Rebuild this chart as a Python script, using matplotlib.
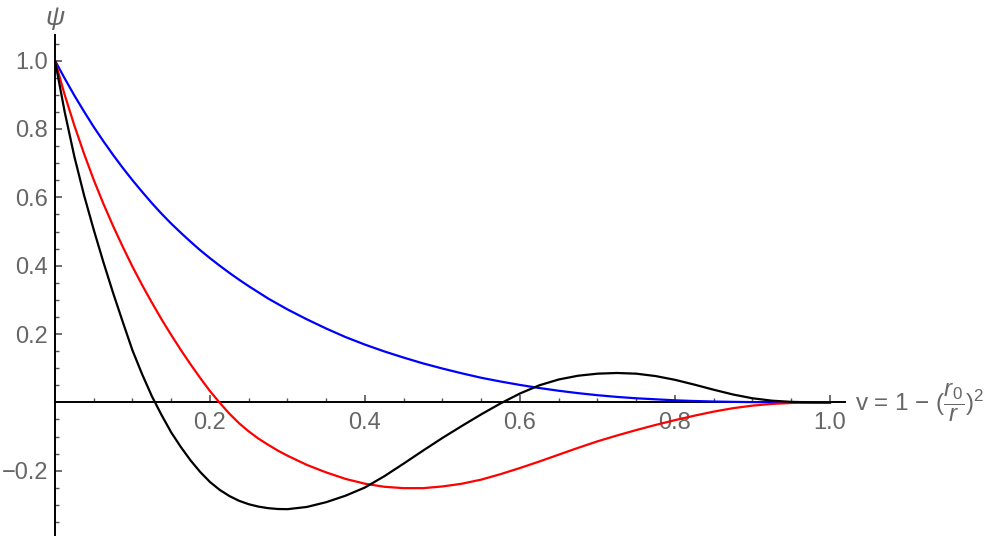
import matplotlib
matplotlib.use('Agg')
import matplotlib.pyplot as plt

# Data (langkah 0.0125 sampai v = 0.3, lalu 0.025)
v = [0.0, 0.0125, 0.025, 0.0375, 0.05, 0.0625, 0.075, 0.0875, 0.1, 0.1125,
     0.125, 0.1375, 0.15, 0.1625, 0.175, 0.1875, 0.2, 0.2125, 0.225, 0.2375,
     0.25, 0.2625, 0.275, 0.2875, 0.3,
     0.325, 0.35, 0.375, 0.4, 0.425, 0.45, 0.475, 0.5, 0.525, 0.55,
     0.575, 0.6, 0.625, 0.65, 0.675, 0.7, 0.725, 0.75, 0.775, 0.8,
     0.825, 0.85, 0.875, 0.9, 0.925, 0.95, 0.975, 1.0]

psi_blue = [1.0, 0.948, 0.898, 0.851, 0.806, 0.764, 0.724, 0.686, 0.65, 0.616,
            0.583, 0.552, 0.523, 0.496, 0.47, 0.445, 0.422, 0.40, 0.379, 0.359,
            0.34, 0.322, 0.304, 0.288, 0.272,
            0.243, 0.216, 0.191, 0.169, 0.149, 0.131, 0.114, 0.099, 0.085, 0.072,
            0.061, 0.051, 0.042, 0.034, 0.027, 0.021, 0.016, 0.012, 0.009, 0.006,
            0.004, 0.0025, 0.0015, 0.0008, 0.0003, 0.0001, 0.0, 0.0]

psi_red = [1.0, 0.90, 0.81, 0.7275, 0.651, 0.581, 0.516, 0.455, 0.397, 0.343,
           0.292, 0.243, 0.197, 0.153, 0.111, 0.071, 0.033, -0.001, -0.033, -0.061,
           -0.085, -0.106, -0.124, -0.141, -0.156,
           -0.183, -0.205, -0.224, -0.238, -0.247, -0.251, -0.251, -0.246, -0.238, -0.226,
           -0.21, -0.192, -0.173, -0.153, -0.133, -0.114, -0.097, -0.081, -0.066, -0.052,
           -0.039, -0.027, -0.017, -0.0095, -0.0045, -0.0017, -0.0004, 0.0]

psi_black = [1.0, 0.85, 0.719, 0.606, 0.505, 0.41, 0.32, 0.235, 0.152, 0.082,
             0.018, -0.037, -0.088, -0.131, -0.170, -0.204, -0.233, -0.256, -0.274, -0.288,
             -0.298, -0.305, -0.3095, -0.312, -0.3125,
             -0.306, -0.292, -0.273, -0.249, -0.216, -0.179, -0.141, -0.104, -0.069, -0.035,
             -0.003, 0.026, 0.05, 0.067, 0.078, 0.084, 0.086, 0.084, 0.077, 0.066,
             0.052, 0.037, 0.023, 0.012, 0.005, 0.0015, 0.0002, 0.0]

x_major = [0.2, 0.4, 0.6, 0.8, 1.0]
y_major = [-0.2, 0.2, 0.4, 0.6, 0.8, 1.0]

plt.rcParams['font.family'] = ['Liberation Sans', 'DejaVu Sans']
plt.rcParams['mathtext.fontset'] = 'custom'
plt.rcParams['mathtext.rm'] = 'Liberation Sans'
plt.rcParams['mathtext.it'] = 'Liberation Sans:italic'

label_color = '#666666'
tick_color = '#555555'

fig = plt.figure(figsize=(10, 5.36), dpi=100)
ax = fig.add_axes([0.055, 0.0, 0.79, 0.9347])

# Kurva
ax.plot(v, psi_blue, color='#0000ff', lw=1.6, zorder=3)
ax.plot(v, psi_red, color='#ff0000', lw=1.6, zorder=4)
ax.plot(v, psi_black, color='black', lw=1.6, zorder=5)

ax.set_xlim(0, 1.0194)
ax.set_ylim(-0.391, 1.075)

# Sumbu gaya Mathematica
ax.spines['top'].set_visible(False)
ax.spines['right'].set_visible(False)
ax.spines['bottom'].set_position(('data', 0))
ax.spines['left'].set_position(('data', 0))
for s in ['bottom', 'left']:
    ax.spines[s].set_linewidth(1.4)
    ax.spines[s].set_color('black')
    ax.spines[s].set_zorder(2)

x_minor = [round(0.05 * i, 2) for i in range(1, 21) if i % 4 != 0]
y_minor = [round(0.05 * i, 2) for i in range(-7, 22) if i % 4 != 0]
ax.set_xticks(x_major)
ax.set_xticks(x_minor, minor=True)
ax.set_yticks(y_major)
ax.set_yticks(y_minor, minor=True)
ax.set_xticklabels([f'{t:.1f}' for t in x_major])
ax.set_yticklabels([f'{t:.1f}'.replace('-', '\u2212') for t in y_major])

ax.tick_params(axis='both', which='major', direction='in', length=5, width=1.2,
               color=tick_color, labelsize=17, labelcolor=label_color)
ax.tick_params(axis='both', which='minor', direction='in', length=3, width=1.0,
               color=tick_color)
ax.tick_params(axis='x', which='major', pad=7)
ax.tick_params(axis='y', which='major', pad=5)

# Label sumbu
ax.text(0.0, 1.005, r'$\psi$', transform=ax.transAxes, ha='center', va='bottom',
        fontsize=19, color=label_color, clip_on=False)
ax.text(1.032, 0.0, r'v = 1 $-$ $(\dfrac{r_0}{r})^2$', ha='left', va='center',
        fontsize=17.5, color=label_color, clip_on=False)

fig.savefig('out.png', dpi=100)
